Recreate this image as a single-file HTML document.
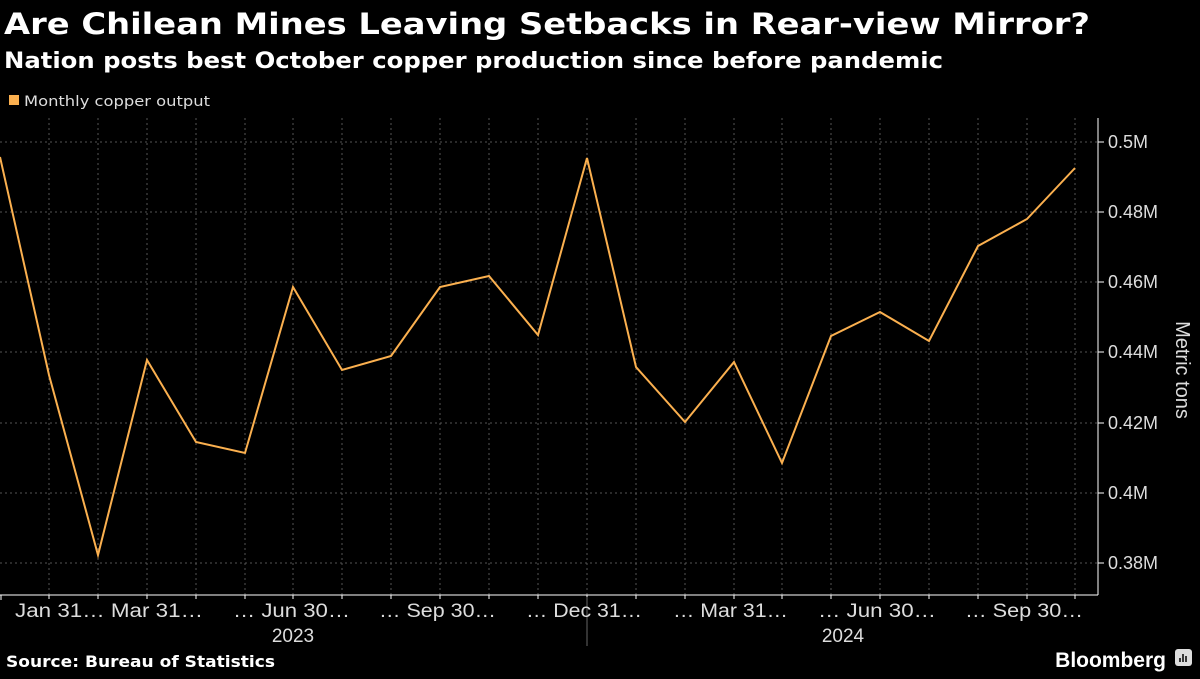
<!DOCTYPE html><html><head><style>body{margin:0;background:#000;width:1200px;height:675px;overflow:hidden;font-family:"DejaVu Sans","Liberation Sans",sans-serif}</style></head><body>
<svg width="1200" height="675" xmlns="http://www.w3.org/2000/svg">
<text x="4" y="34" fill="#fff" font-size="29" font-weight="bold" font-family="DejaVu Sans" textLength="1086" lengthAdjust="spacingAndGlyphs">Are Chilean Mines Leaving Setbacks in Rear-view Mirror?</text>
<text x="4" y="68" fill="#fff" font-size="22" font-weight="bold" font-family="DejaVu Sans" textLength="939" lengthAdjust="spacingAndGlyphs">Nation posts best October copper production since before pandemic</text>
<rect x="9" y="95" width="10" height="10" fill="#fbb04f"/>
<text x="24" y="106" fill="#ddd" font-size="14" textLength="186" lengthAdjust="spacingAndGlyphs">Monthly copper output</text>
<g stroke="#555" stroke-dasharray="2,3" stroke-width="1">
<line x1="0" y1="142" x2="1098" y2="142"/><line x1="0" y1="212" x2="1098" y2="212"/><line x1="0" y1="282" x2="1098" y2="282"/><line x1="0" y1="352" x2="1098" y2="352"/><line x1="0" y1="423" x2="1098" y2="423"/><line x1="0" y1="493" x2="1098" y2="493"/><line x1="0" y1="563" x2="1098" y2="563"/>
<path d="M49 118V595M98 118V595M147 118V595M196 118V595M245 118V595M293 118V595M342 118V595M391 118V595M440 118V595M489 118V595M538 118V595M587 118V595M636 118V595M685 118V595M734 118V595M782 118V595M831 118V595M880 118V595M929 118V595M978 118V595M1027 118V595M1075 118V595"/>
</g>
<line x1="1098" y1="118" x2="1098" y2="595" stroke="#fff"/>
<line x1="0" y1="595" x2="1098" y2="595" stroke="#fff"/>
<g stroke="#fff"><path d="M1098 142h6M1098 212h6M1098 282h6M1098 352h6M1098 423h6M1098 493h6M1098 563h6"/>
<path d="M1 595v5M49 595v4M98 595v4M147 595v4M196 595v4M245 595v4M293 595v4M342 595v4M391 595v4M440 595v4M489 595v4M538 595v4M587 595v4M636 595v4M685 595v4M734 595v4M782 595v4M831 595v4M880 595v4M929 595v4M978 595v4M1027 595v4M1075 595v4"/></g>
<line x1="587" y1="597" x2="587" y2="646" stroke="#666"/>
<g fill="#ddd" font-size="18" font-family="Liberation Sans"><text x="1108" y="148">0.5M</text><text x="1108" y="218">0.48M</text><text x="1108" y="288">0.46M</text><text x="1108" y="358">0.44M</text><text x="1108" y="429">0.42M</text><text x="1108" y="499">0.4M</text><text x="1108" y="569">0.38M</text>
<text x="1176" y="370" transform="rotate(90 1176 370)" text-anchor="middle" font-size="20">Metric tons</text>
<g font-size="19">
<text x="15" y="617" textLength="188" lengthAdjust="spacingAndGlyphs">Jan 31… Mar 31…</text>
<text x="233" y="617" textLength="117" lengthAdjust="spacingAndGlyphs">… Jun 30…</text>
<text x="379" y="617" textLength="117" lengthAdjust="spacingAndGlyphs">… Sep 30…</text>
<text x="526" y="617" textLength="116" lengthAdjust="spacingAndGlyphs">… Dec 31…</text>
<text x="673" y="617" textLength="115" lengthAdjust="spacingAndGlyphs">… Mar 31…</text>
<text x="818" y="617" textLength="118" lengthAdjust="spacingAndGlyphs">… Jun 30…</text>
<text x="965" y="617" textLength="118" lengthAdjust="spacingAndGlyphs">… Sep 30…</text>
<text x="293" y="642" text-anchor="middle">2023</text><text x="843" y="642" text-anchor="middle">2024</text></g></g>
<polyline fill="none" stroke="#fbb04f" stroke-width="2" points="0,157 49,375 98,555 147,360 196,442 245,453 293,287 342,370 391,356 440,287 489,276 538,335 587,158 636,367 685,422 734,362 782,463 831,336 880,312 929,341 978,246 1027,219 1075,168"/>
<text x="6" y="667" fill="#fff" font-size="16" font-weight="bold" font-family="DejaVu Sans" textLength="269" lengthAdjust="spacingAndGlyphs">Source: Bureau of Statistics</text>
<text x="1166" y="667" fill="#fff" font-size="21" font-weight="bold" text-anchor="end" font-family="Liberation Sans">Bloomberg</text>
<rect x="1175" y="649" width="17" height="17" rx="3" fill="#ddd"/>
<path d="M1180 662v-4M1183 662v-8M1186 662v-6" stroke="#000" stroke-width="1.5"/>
</svg></body></html>
